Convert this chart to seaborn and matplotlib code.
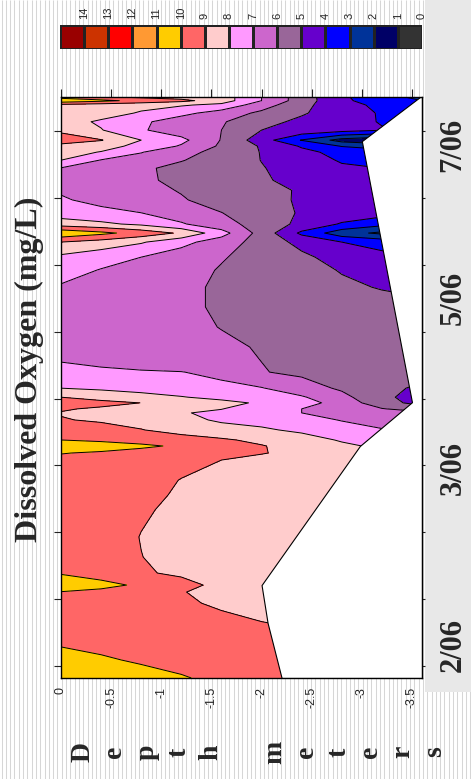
import numpy as np
import matplotlib
matplotlib.use("Agg")
import matplotlib.pyplot as plt
import matplotlib.transforms as mtransforms
from matplotlib.colors import ListedColormap
from matplotlib.collections import LineCollection
from matplotlib.patches import Rectangle
import seaborn as sns

sns.set_style("white")
plt.rcParams['font.family'] = ['Liberation Sans', 'DejaVu Sans']

# colour classes: 0-1, 1-2, ... 14-15 mg/L
do_levels = list(range(16))
do_colors = ['#333333', '#000066', '#003399', '#0000ff', '#6600cc', '#996699',
             '#cc66cc', '#ff99ff', '#ffcccc', '#ff6666', '#ffcc00', '#ff9933',
             '#ff0000', '#cc3300', '#990000']
scale_labels = ['14', '13', '12', '11', '10', '9', '8', '7', '6', '5', '4', '3', '2', '1', '0']

# depth of each profile column (m below surface)
depths = [0.0, 0.4, 0.8, 1.2, 1.6, 2.0, 2.4, 2.8, 3.2, 3.6]
# day of each profile row (day 0 ~ start of series)
days = [-3.6, 1.8, 5.7, 12.9, 18.8, 22.1, 24.2, 27.8, 32.6, 38.6, 46.7, 51.1,
        55.6, 61.6, 63.7, 65.8, 67.6, 70.6, 73.6, 75.7, 76.9, 78.7, 80.4, 83.1,
        87.9, 90.9, 95.4, 101.4, 107.4, 113.3, 118.4, 122.3, 126.8, 129.5, 132.2,
        135.5, 139.4, 142.3, 145.3, 148.9, 151.3, 153.7, 155.5, 157.3, 160.3,
        162.8, 165.4, 167.8, 169.1, 170.2]
do_values = [
    [10.7, 10.5, 10.3, 10.05, 9.85, 9.7, 9.6, 9.5, 9.5, 9.5],
    [10.3, 10.1, 9.9, 9.8, 9.7, 9.6, 9.5, 9.5, 9.5, 9.5],
    [10.0, 9.85, 9.75, 9.65, 9.55, 9.5, 9.4, 9.4, 9.4, 9.4],
    [9.6, 9.55, 9.45, 9.35, 9.25, 9.02, 8.9, 8.9, 8.9, 8.9],
    [9.7, 9.55, 9.4, 9.15, 8.85, 8.7, 8.6, 8.6, 8.6, 8.6],
    [9.95, 9.7, 9.45, 9.03, 8.8, 8.65, 8.6, 8.6, 8.6, 8.6],
    [10.8, 10.35, 9.8, 9.3, 8.75, 8.5, 8.4, 8.4, 8.4, 8.4],
    [9.9, 9.5, 9.1, 8.85, 8.7, 8.6, 8.5, 8.5, 8.5, 8.5],
    [9.6, 9.35, 9.01, 8.8, 8.7, 8.6, 8.5, 8.5, 8.5, 8.5],
    [9.55, 9.32, 8.98, 8.8, 8.7, 8.6, 8.5, 8.5, 8.5, 8.5],
    [9.6, 9.38, 9.08, 8.85, 8.7, 8.6, 8.5, 8.5, 8.5, 8.5],
    [9.6, 9.42, 9.2, 8.9, 8.75, 8.6, 8.5, 8.5, 8.5, 8.5],
    [9.6, 9.45, 9.25, 8.98, 8.8, 8.6, 8.5, 8.4, 8.3, 8.3],
    [9.7, 9.55, 9.4, 9.2, 9.0, 8.8, 8.6, 8.5, 8.4, 8.3],
    [10.05, 9.85, 9.6, 9.35, 9.2, 9.04, 8.8, 8.5, 8.3, 8.2],
    [10.9, 10.55, 10.2, 9.83, 9.45, 9.05, 8.65, 8.2, 7.8, 7.5],
    [10.0, 9.8, 9.58, 9.35, 9.12, 8.8, 8.45, 7.9, 7.75, 7.5],
    [9.5, 9.3, 9.03, 8.7, 8.4, 8.15, 7.8, 7.4, 7.05, 6.8],
    [9.05, 8.9, 8.72, 8.3, 7.85, 7.65, 7.35, 6.95, 6.7, 6.5],
    [8.95, 8.7, 8.45, 8.05, 7.85, 7.55, 7.0, 6.7, 6.4, 6.2],
    [9.1, 8.85, 8.6, 8.3, 8.02, 7.6, 7.0, 6.5, 6.05, 5.6],
    [9.6, 9.3, 8.99, 8.63, 8.27, 7.87, 7.45, 6.55, 5.45, 4.6],
    [9.0, 8.6, 8.3, 8.05, 7.75, 7.4, 7.1, 6.3, 5.2, 4.6],
    [8.0, 7.85, 7.7, 7.5, 7.3, 7.05, 6.45, 5.85, 5.3, 4.8],
    [7.3, 7.2, 7.1, 7.03, 6.7, 6.05, 5.8, 5.6, 5.5, 5.4],
    [7.0, 6.8, 6.6, 6.4, 6.2, 6.0, 5.8, 5.65, 5.55, 5.45],
    [6.9, 6.65, 6.45, 6.28, 6.12, 5.95, 5.8, 5.65, 5.55, 5.45],
    [6.7, 6.5, 6.32, 6.17, 5.98, 5.85, 5.7, 5.6, 5.5, 5.4],
    [6.75, 6.5, 6.3, 6.12, 5.92, 5.75, 5.6, 5.45, 5.3, 5.2],
    [6.9, 6.62, 6.38, 6.15, 5.9, 5.65, 5.4, 5.15, 4.95, 4.8],
    [7.4, 6.95, 6.6, 6.25, 5.95, 5.65, 5.3, 4.95, 4.7, 4.5],
    [7.8, 7.4, 7.0, 6.5, 6.05, 5.75, 5.2, 4.6, 4.3, 4.1],
    [9.0, 8.6, 8.1, 7.3, 6.5, 5.6, 4.7, 4.0, 3.6, 3.4],
    [10.8, 10.25, 9.6, 8.85, 7.4, 5.6, 3.8, 2.4, 1.8, 1.6],
    [8.5, 8.2, 7.8, 7.1, 6.35, 5.6, 4.75, 3.9, 3.3, 3.0],
    [7.5, 7.25, 7.01, 6.5, 6.02, 5.5, 4.9, 4.6, 4.4, 4.2],
    [7.1, 6.75, 6.4, 6.07, 5.67, 5.28, 4.9, 4.7, 4.5, 4.3],
    [6.9, 6.55, 6.25, 5.95, 5.65, 5.3, 4.9, 4.6, 4.4, 4.2],
    [6.8, 6.45, 6.15, 5.8, 5.45, 5.1, 4.75, 4.45, 4.2, 4.0],
    [6.95, 6.55, 6.15, 5.75, 5.4, 5.05, 4.6, 4.15, 4.0, 3.8],
    [8.0, 6.95, 6.55, 6.05, 5.55, 4.98, 4.5, 3.9, 3.7, 3.5],
    [8.4, 7.95, 7.05, 6.2, 5.8, 4.95, 4.25, 3.7, 3.4, 3.2],
    [8.7, 8.4, 7.7, 6.9, 5.85, 4.9, 3.9, 2.95, 2.6, 2.4],
    [9.5, 9.05, 8.0, 7.25, 5.95, 4.45, 2.95, 1.6, 1.2, 1.0],
    [8.8, 8.05, 7.1, 6.5, 6.0, 5.0, 4.7, 4.4, 4.05, 3.8],
    [8.45, 7.85, 7.2, 6.45, 6.1, 5.3, 4.8, 4.3, 3.95, 3.7],
    [8.8, 8.45, 7.9, 7.3, 6.55, 5.8, 5.1, 4.5, 3.9, 3.5],
    [8.7, 8.5, 8.3, 8.1, 7.75, 6.45, 5.3, 4.3, 3.8, 3.5],
    [10.7, 10.25, 9.7, 9.25, 8.5, 7.0, 5.5, 4.2, 3.5, 3.0],
    [9.6, 9.1, 8.8, 8.6, 8.5, 7.0, 5.5, 4.15, 3.4, 2.7],
]

# lake bottom under the sampling dates
bottom_days = [-3.6, 12.9, 24.2, 65.8, 78.9, 157.0, 170.2]
bottom_depths = [2.2, 2.06, 2.0, 2.98, 3.5, 3.0, 3.58]

depth_ticks = [0, -0.5, -1, -1.5, -2, -2.5, -3, -3.5]
depth_tick_labels = ['0', '-0.5', '-1', '-1.5', '-2', '-2.5', '-3', '-3.5']
day_ticks = [0, 20, 40, 60, 80, 100, 120, 140, 160]
date_labels = ['2/06', '3/06', '5/06', '7/06']
date_label_days = [6.3, 59.2, 110, 155.8]

W, H = 471, 779
fig = plt.figure(figsize=(W / 100, H / 100), dpi=100)
fig.patch.set_facecolor('white')

# striped page background + grey date panel
xs = np.arange(1.5, W, 4.3)
fig.add_artist(LineCollection([[(x / W, 0), (x / W, 1)] for x in xs], colors='#d6d6d6',
                              linewidths=0.75, transform=fig.transFigure, zorder=-5))
fig.add_artist(Rectangle((425 / W, (H - 692) / H), 46 / W, 692 / H, transform=fig.transFigure,
                         facecolor='#e8e8e8', edgecolor='none', zorder=-4))

# main contour panel (depth across, time upward)
ax = fig.add_axes([61 / W, 101 / H, 361 / W, 581 / H])
xg = -np.array(depths)
tg = np.array(days)
zg = np.array(do_values)
ax.contourf(xg, tg, zg, levels=do_levels, colors=do_colors)
ax.contour(xg, tg, zg, levels=do_levels, colors='black', linewidths=0.7)
ax.fill_betweenx(bottom_days, [-d for d in bottom_depths], -3.6, facecolor='white',
                 edgecolor='black', linewidth=0.8, zorder=3)
ax.set_xlim(0, -3.6)
ax.set_ylim(-3.6, 170.2)
ax.set_xticks(depth_ticks)
ax.set_xticklabels(depth_tick_labels)
ax.set_yticks(day_ticks)
ax.set_yticklabels([])
ax.tick_params(axis='x', top=True, bottom=False, labeltop=False, labelbottom=True,
               direction='out', length=5.8, width=0.8, pad=0.8, labelsize=9,
               labelrotation=90, color='#222222')
ax.tick_params(axis='y', left=True, right=True, direction='out', length=5, width=0.8,
               color='#222222')
for tk in ax.yaxis.get_major_ticks():
    tk.tick2line.set_markersize(2.5)
for sp in ax.spines.values():
    sp.set_color('black')
    sp.set_linewidth(1.0)
    sp.set_zorder(5)

# colour scale on top
cax = fig.add_axes([60 / W, (H - 49) / H, 362 / W, 24 / H])
sns.heatmap(np.array([[14.5 - i for i in range(15)]]), cmap=ListedColormap(do_colors),
            vmin=0, vmax=15, cbar=False, linewidths=0.8, linecolor='#222222', ax=cax)
cax.set_xticks(np.arange(1, 16))
cax.set_xticklabels(scale_labels, rotation=90, fontsize=8)
cax.set_yticks([])
cax.xaxis.tick_top()
cax.tick_params(axis='x', length=0, pad=4)

serif = ['Liberation Serif', 'DejaVu Serif']
fig.text(29 / W, 1 - 369 / H, 'Dissolved Oxygen (mg/L)', rotation=90, ha='center',
         va='center', fontsize=23, fontweight='bold', family=serif)
for i, ch in enumerate('Depth meters'):
    if ch != ' ':
        fig.text((83 + 32 * i) / W, 1 - 752 / H, ch, rotation=90, ha='center',
                 va='center', fontsize=20, fontweight='bold', family=serif)

trans = mtransforms.blended_transform_factory(fig.transFigure, ax.transData)
for lab, d in zip(date_labels, date_label_days):
    ax.text(453 / W, d, lab, transform=trans, rotation=90, ha='center', va='center',
            fontsize=22, fontweight='bold', family=serif, clip_on=False)

fig.savefig('out.png', dpi=100)
